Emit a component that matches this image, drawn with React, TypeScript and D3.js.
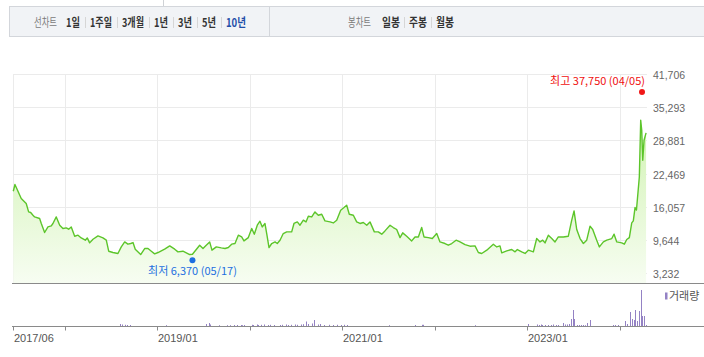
import React from "react";
import * as d3 from "d3";

// ---- data (dates as decimal years) ----
const priceYears = [
  2017.435, 2017.453, 2017.521, 2017.575, 2017.601, 2017.623, 2017.648, 2017.666, 2017.72, 2017.738,
  2017.774, 2017.81, 2017.846, 2017.864, 2017.9, 2017.937, 2017.972, 2018.008, 2018.034, 2018.062,
  2018.099, 2018.135, 2018.17, 2018.214, 2018.235, 2018.261, 2018.297, 2018.351, 2018.405, 2018.441,
  2018.467, 2018.513, 2018.567, 2018.603, 2018.64, 2018.675, 2018.705, 2018.73, 2018.754, 2018.813,
  2018.856, 2018.892, 2018.928, 2018.964, 2019.0, 2019.072, 2019.127, 2019.181, 2019.216, 2019.27,
  2019.343, 2019.373, 2019.451, 2019.487, 2019.522, 2019.559, 2019.584, 2019.631, 2019.685, 2019.725,
  2019.761, 2019.797, 2019.833, 2019.869, 2019.905, 2019.93, 2019.977, 2020.014, 2020.042, 2020.074,
  2020.103, 2020.128, 2020.157, 2020.176, 2020.201, 2020.23, 2020.266, 2020.29, 2020.32, 2020.355,
  2020.392, 2020.446, 2020.471, 2020.507, 2020.536, 2020.572, 2020.601, 2020.626, 2020.663, 2020.698,
  2020.734, 2020.771, 2020.806, 2020.861, 2020.896, 2020.933, 2020.976, 2021.012, 2021.041, 2021.069,
  2021.113, 2021.149, 2021.185, 2021.221, 2021.258, 2021.293, 2021.34, 2021.383, 2021.42, 2021.455,
  2021.51, 2021.545, 2021.582, 2021.618, 2021.647, 2021.69, 2021.744, 2021.78, 2021.816, 2021.852,
  2021.877, 2021.924, 2021.967, 2022.015, 2022.05, 2022.104, 2022.14, 2022.177, 2022.224, 2022.267,
  2022.321, 2022.375, 2022.429, 2022.465, 2022.501, 2022.556, 2022.627, 2022.664, 2022.699, 2022.718,
  2022.772, 2022.826, 2022.862, 2022.887, 2022.934, 2022.97, 2023.006, 2023.06, 2023.096, 2023.132,
  2023.161, 2023.186, 2023.222, 2023.259, 2023.294, 2023.33, 2023.384, 2023.438, 2023.475, 2023.5,
  2023.529, 2023.565, 2023.601, 2023.637, 2023.673, 2023.702, 2023.745, 2023.774, 2023.817, 2023.854,
  2023.908, 2023.933, 2023.962, 2024.016, 2024.044, 2024.07, 2024.098, 2024.124, 2024.141, 2024.16,
  2024.175, 2024.206, 2024.221, 2024.232, 2024.243, 2024.257, 2024.279,
];
const priceValues = [
  19140, 20440, 17730, 16760, 15140, 15030, 14500, 14170, 13860, 12900,
  11160, 12240, 12430, 12900, 14170, 12570, 11930, 12050, 11800, 12240,
  10440, 10640, 10110, 9670, 10110, 9150, 9860, 10500, 10110, 9670,
  7540, 7290, 7100, 8370, 9340, 8900, 9030, 9220, 7930, 6900,
  8060, 8060, 7540, 7030, 7290, 7930, 8570, 7930, 7420, 7540,
  6900, 6950, 8700, 8060, 8700, 9340, 7740, 8370, 8180, 8060,
  8250, 8900, 9030, 10640, 10300, 9530, 10170, 11930, 10830, 12570,
  13340, 12240, 12900, 10960, 8250, 9030, 9340, 9030, 9670, 10960,
  11280, 11280, 12900, 13210, 12570, 13540, 13210, 14310, 14170, 15140,
  14500, 14690, 13400, 13210, 13010, 13540, 15470, 15980, 16430, 14690,
  14500, 13210, 12900, 13090, 12570, 13210, 11280, 11280, 10830, 11470,
  12570, 12120, 11740, 10170, 11090, 10440, 9530, 10300, 10300, 12120,
  10300, 10170, 9990, 10960, 9340, 9030, 8700, 9030, 9670, 9340,
  8830, 8510, 8570, 7290, 7100, 7740, 8900, 8370, 8570, 7220,
  7610, 7870, 7420, 7870, 7420, 7100, 7740, 7420, 9990, 9340,
  9670, 9150, 10640, 9990, 9340, 10300, 10300, 10440, 13540, 15330,
  11740, 9990, 9030, 9670, 12380, 11740, 9670, 8370, 9340, 9670,
  9990, 10830, 9340, 9150, 8900, 9800, 10170, 13010, 13400, 16000,
  15500, 21900, 32870, 30930, 25130, 29000, 30410,
];

const volumeYears = [
  2018.6, 2018.621, 2018.648, 2018.675, 2018.708, 2019.087, 2019.53, 2019.552, 2019.573, 2019.66,
  2019.757, 2019.779, 2019.833, 2019.855, 2019.898, 2019.919, 2019.941, 2020.017, 2020.038, 2020.071,
  2020.092, 2020.125, 2020.157, 2020.19, 2020.222, 2020.255, 2020.32, 2020.352, 2020.385, 2020.417,
  2020.449, 2020.482, 2020.514, 2020.547, 2020.579, 2020.601, 2020.633, 2020.666, 2020.698, 2020.731,
  2020.763, 2020.806, 2020.85, 2020.893, 2020.947, 2020.98, 2021.012, 2021.055, 2021.502, 2021.783,
  2021.856, 2021.874, 2022.432, 2023.002, 2023.1, 2023.121, 2023.143, 2023.164, 2023.186, 2023.219,
  2023.251, 2023.273, 2023.305, 2023.334, 2023.381, 2023.403, 2023.424, 2023.446, 2023.468, 2023.494,
  2023.51, 2023.532, 2023.554, 2023.576, 2023.597, 2023.619, 2023.641, 2023.677, 2023.929, 2023.951,
  2023.976, 2024.055, 2024.081, 2024.109, 2024.135, 2024.152, 2024.163, 2024.189, 2024.206, 2024.228,
  2024.243, 2024.26, 2024.279,
];
const volumeValues = [
  200, 150, 120, 100, 100, 80, 200, 300, 150, 80,
  80, 80, 100, 100, 100, 80, 100, 120, 100, 150,
  100, 120, 150, 100, 120, 100, 100, 120, 150, 100,
  120, 150, 120, 150, 180, 450, 200, 250, 600, 150,
  200, 100, 120, 100, 120, 100, 120, 100, 80, 100,
  120, 120, 80, 200, 150, 100, 150, 100, 100, 100,
  100, 150, 100, 100, 300, 150, 150, 200, 700, 1600,
  700, 100, 100, 100, 100, 80, 300, 600, 100, 100,
  100, 500, 200, 1400, 700, 600, 1600, 500, 1500, 3600,
  1000, 1000, 100,
];

const yTickValues = [3232, 9644, 16057, 22469, 28881, 35293, 41706];
const xStartYear = 2017.432;
const xEndYear = 2024.289;
const xGridYears = [2017.432, 2018, 2019, 2020, 2021, 2022, 2023, 2024];
const xLabelYears = [2017.432, 2019, 2021, 2023];
const xLabelTexts = ["2017/06", "2019/01", "2021/01", "2023/01"];

const highValue = 37750;
const highYear = 2024.235;
const highText = "최고 37,750 (04/05)";
const lowValue = 6370;
const lowYear = 2019.373;
const lowText = "최저 6,370 (05/17)";

const lineTabTitle = "선차트";
const lineTabs = ["1일", "1주일", "3개월", "1년", "3년", "5년", "10년"];
const activeTab = "10년";
const candleTabTitle = "봉차트";
const candleTabs = ["일봉", "주봉", "월봉"];
const volumeLegend = "거래량";

// ---- layout ----
const W = 704;
const H = 357;
const plotLeft = 13;
const plotRight = 647;
const priceTop = 74.5;
const priceBottomTick = 273.5;
const panelLine = 283.5;
const volBase = 326;

const KFONT = "'Noto Sans CJK KR', 'Noto Sans', sans-serif";
const NFONT = "'Liberation Sans', Arial, sans-serif";

function estWidth(s: string) {
  let w = 0;
  for (const ch of s) {
    if (/[0-9]/.test(ch)) w += 6;
    else if (/[\uAC00-\uD7A3]/.test(ch)) w += 8;
    else w += 3;
  }
  return w;
}

export default function App() {
  const x = d3.scaleLinear().domain([xStartYear, xEndYear]).range([plotLeft, plotRight]);
  const y = d3.scaleLinear().domain([3232, 41706]).range([priceBottomTick, priceTop]);
  const yVol = d3.scaleLinear().domain([0, 4000]).range([volBase, volBase - 40]);

  const pts = priceYears.map((t, i) => [t, priceValues[i]] as [number, number]);
  const line = d3.line<[number, number]>().x((d) => x(d[0])).y((d) => y(d[1]));
  const area = d3
    .area<[number, number]>()
    .x((d) => x(d[0]))
    .y0(panelLine - 0.5)
    .y1((d) => y(d[1]));

  const crisp = (v: number) => Math.floor(v) + 0.5;

  // tab layout
  const tabEls: React.ReactNode[] = [];
  let cx = 66;
  lineTabs.forEach((t, i) => {
    const w = estWidth(t);
    tabEls.push(
      <text
        key={"lt" + i}
        x={cx}
        y={26.5}
        fontFamily={KFONT}
        fontSize={12}
        fontWeight={700}
        fill={t === activeTab ? "#1f4ea8" : "#333"}
        textLength={w}
        lengthAdjust="spacingAndGlyphs"
      >
        {t}
      </text>
    );
    cx += w;
    if (i < lineTabs.length - 1) {
      tabEls.push(
        <line key={"ls" + i} x1={cx + 5.5} x2={cx + 5.5} y1={17} y2={28} stroke="#d6d6d6" />
      );
      cx += 10;
    }
  });
  cx = 382;
  candleTabs.forEach((t, i) => {
    const w = estWidth(t) + 2;
    tabEls.push(
      <text
        key={"ct" + i}
        x={cx}
        y={26.5}
        fontFamily={KFONT}
        fontSize={12}
        fontWeight={700}
        fill="#333"
        textLength={w}
        lengthAdjust="spacingAndGlyphs"
      >
        {t}
      </text>
    );
    cx += w;
    if (i < candleTabs.length - 1) {
      tabEls.push(
        <line key={"cs" + i} x1={cx + 4.5} x2={cx + 4.5} y1={17} y2={28} stroke="#d6d6d6" />
      );
      cx += 9;
    }
  });

  return (
    <div style={{ position: "absolute", left: 0, top: 0 }}>
      <svg width={W} height={H} style={{ display: "block", background: "#fff" }}>
        <defs>
          <linearGradient id="fillG" gradientUnits="userSpaceOnUse" x1={0} y1={priceTop} x2={0} y2={panelLine}>
            <stop offset="0%" stopColor="#c6f0a0" />
            <stop offset="100%" stopColor="#f7fdf2" />
          </linearGradient>
        </defs>

        {/* top strip */}
        <line x1={163.5} x2={163.5} y1={0} y2={6} stroke="#cfd2d6" />
        {/* tab bar */}
        <rect x={9.5} y={6.5} width={710} height={30} fill="#f1f3f6" stroke="#d3d6db" />
        <line x1={269.5} x2={269.5} y1={6.5} y2={36.5} stroke="#d3d6db" />
        <text x={34} y={26.5} fontFamily={KFONT} fontSize={12} fill="#7a7a7a" textLength={23} lengthAdjust="spacingAndGlyphs">
          {lineTabTitle}
        </text>
        <text x={348} y={26.5} fontFamily={KFONT} fontSize={12} fill="#7a7a7a" textLength={23} lengthAdjust="spacingAndGlyphs">
          {candleTabTitle}
        </text>
        {tabEls}

        {/* grid */}
        {yTickValues.map((v) => (
          <line key={"gy" + v} x1={plotLeft} x2={plotRight} y1={crisp(y(v))} y2={crisp(y(v))} stroke="#ebebeb" />
        ))}
        {xGridYears.map((t) => (
          <line key={"gx" + t} x1={crisp(x(t))} x2={crisp(x(t))} y1={priceTop - 0.5} y2={panelLine} stroke="#ebebeb" />
        ))}

        {/* area + line */}
        <path d={area(pts) || ""} fill="url(#fillG)" />
        <path d={line(pts) || ""} fill="none" stroke="#5cc52a" strokeWidth={1.4} strokeLinejoin="round" />

        {/* y labels */}
        {yTickValues.map((v) => (
          <text key={"yl" + v} x={653} y={crisp(y(v)) + 4.5} fontFamily={NFONT} fontSize={10.5} fill="#666">
            {d3.format(",")(v)}
          </text>
        ))}

        {/* high / low markers */}
        <circle cx={x(highYear)} cy={y(highValue) - 3} r={3} fill="#f01818" />
        <text x={645} y={84.5} textAnchor="end" fontFamily={KFONT} fontSize={11} fill="#f01010">
          {highText}
        </text>
        <circle cx={x(lowYear)} cy={y(lowValue) + 3} r={3} fill="#1d6fe0" />
        <text x={x(lowYear)} y={274.5} textAnchor="middle" fontFamily={KFONT} fontSize={11} fill="#1d6fe0">
          {lowText}
        </text>

        {/* volume panel */}
        <line x1={12} x2={W} y1={panelLine} y2={panelLine} stroke="#8a8a8a" />
        {volumeYears.map((t, i) => (
          <rect
            key={"v" + i}
            x={Math.floor(x(t))}
            y={yVol(volumeValues[i])}
            width={1}
            height={volBase - yVol(volumeValues[i])}
            fill="#9482c4"
          />
        ))}
        <line x1={12} x2={W} y1={volBase + 0.5} y2={volBase + 0.5} stroke="#8a8a8a" />
        {xGridYears.map((t) => (
          <line key={"tk" + t} x1={crisp(x(t))} x2={crisp(x(t))} y1={volBase} y2={volBase + 4.5} stroke="#8a8a8a" />
        ))}
        {xLabelYears.map((t, i) => (
          <text key={"xl" + t} x={Math.floor(x(t)) + 1} y={342} fontFamily={NFONT} fontSize={11} fill="#555">
            {xLabelTexts[i]}
          </text>
        ))}

        {/* legend */}
        <rect x={665} y={292.5} width={2.5} height={7} fill="#9482c4" />
        <text x={669} y={300} fontFamily={KFONT} fontSize={11} fill="#555">
          {volumeLegend}
        </text>
      </svg>
    </div>
  );
}
